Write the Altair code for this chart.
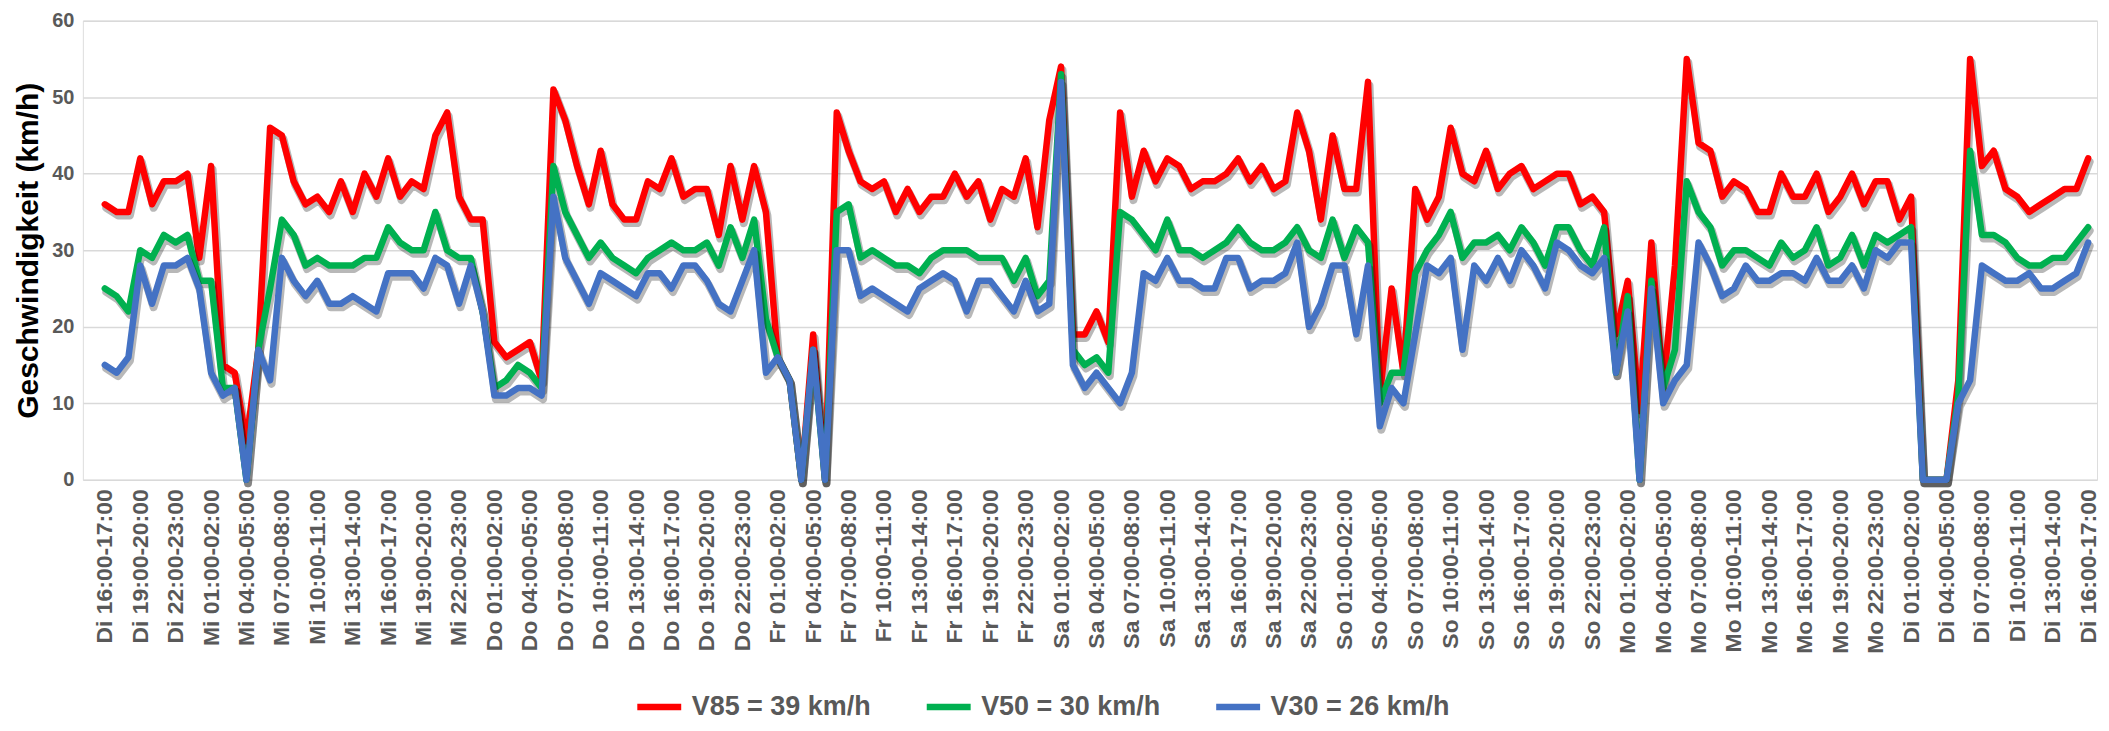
import altair as alt
import pandas as pd

# ---- tick labels (hourly intervals, Tuesday 16:00 to next Tuesday 17:00) ----
days = ["Di", "Mi", "Do", "Fr", "Sa", "So", "Mo", "Di"]
start_hour = 16
labels = []
for i in range(169):
    t = start_hour + i
    d = days[t // 24]
    h = t % 24
    labels.append(f"{d} {h:02d}:00-{(h + 1) % 24:02d}:00")
tick_every = 3

# ---- series values (km/h) ----
v85 = [36, 35, 35, 42, 36, 39, 39, 40, 29, 41,
       15, 14, 5, 17, 46, 45, 39, 36, 37, 35,
       39, 35, 40, 37, 42, 37, 39, 38, 45, 48,
       37, 34, 34, 18, 16, 17, 18, 13, 51, 47,
       41, 36, 43, 36, 34, 34, 39, 38, 42, 37,
       38, 38, 32, 41, 34, 41, 35, 16, 13, 0,
       19, 0, 48, 43, 39, 38, 39, 35, 38, 35,
       37, 37, 40, 37, 39, 34, 38, 37, 42, 33,
       47, 54, 19, 19, 22, 18, 48, 37, 43, 39,
       42, 41, 38, 39, 39, 40, 42, 39, 41, 38,
       39, 48, 43, 34, 45, 38, 38, 52, 11, 25,
       14, 38, 34, 37, 46, 40, 39, 43, 38, 40,
       41, 38, 39, 40, 40, 36, 37, 35, 19, 26,
       9, 31, 12, 28, 55, 44, 43, 37, 39, 38,
       35, 35, 40, 37, 37, 40, 35, 37, 40, 36,
       39, 39, 34, 37, 0, 0, 0, 13, 55, 41,
       43, 38, 37, 35, 36, 37, 38, 38, 42]

v50 = [25, 24, 22, 30, 29, 32, 31, 32, 26, 26,
       12, 12, 0, 17, 25, 34, 32, 28, 29, 28,
       28, 28, 29, 29, 33, 31, 30, 30, 35, 30,
       29, 29, 22, 12, 13, 15, 14, 12, 41, 35,
       32, 29, 31, 29, 28, 27, 29, 30, 31, 30,
       30, 31, 28, 33, 29, 34, 21, 16, 13, 0,
       17, 0, 35, 36, 29, 30, 29, 28, 28, 27,
       29, 30, 30, 30, 29, 29, 29, 26, 29, 24,
       26, 53, 17, 15, 16, 14, 35, 34, 32, 30,
       34, 30, 30, 29, 30, 31, 33, 31, 30, 30,
       31, 33, 30, 29, 34, 29, 33, 31, 10, 14,
       14, 27, 30, 32, 35, 29, 31, 31, 32, 30,
       33, 31, 28, 33, 33, 30, 28, 33, 14, 24,
       0, 26, 12, 17, 39, 35, 33, 28, 30, 30,
       29, 28, 31, 29, 30, 33, 28, 29, 32, 28,
       32, 31, 32, 33, 0, 0, 0, 11, 43, 32,
       32, 31, 29, 28, 28, 29, 29, 31, 33]

v30 = [15, 14, 16, 28, 23, 28, 28, 29, 25, 14,
       11, 12, 0, 17, 13, 29, 26, 24, 26, 23,
       23, 24, 23, 22, 27, 27, 27, 25, 29, 28,
       23, 28, 22, 11, 11, 12, 12, 11, 37, 29,
       26, 23, 27, 26, 25, 24, 27, 27, 25, 28,
       28, 26, 23, 22, 26, 30, 14, 16, 13, 0,
       17, 0, 30, 30, 24, 25, 24, 23, 22, 25,
       26, 27, 26, 22, 26, 26, 24, 22, 26, 22,
       23, 52, 15, 12, 14, 12, 10, 14, 27, 26,
       29, 26, 26, 25, 25, 29, 29, 25, 26, 26,
       27, 31, 20, 23, 28, 28, 19, 28, 7, 12,
       10, 19, 28, 27, 29, 17, 28, 26, 29, 26,
       30, 28, 25, 31, 30, 28, 27, 29, 14, 22,
       0, 25, 10, 13, 15, 31, 28, 24, 25, 28,
       26, 26, 27, 27, 26, 29, 26, 26, 28, 25,
       30, 29, 31, 31, 0, 0, 0, 10, 13, 28,
       27, 26, 26, 27, 25, 25, 26, 27, 31]

series_names = ["V85 = 39 km/h", "V50 = 30 km/h", "V30 = 26 km/h"]
series_colors = ["#FF0000", "#00B050", "#4472C4"]
series_values = [v85, v50, v30]

rows = []
for name, vals in zip(series_names, series_values):
    for i, v in enumerate(vals):
        rows.append({"idx": i, "label": labels[i], "series": name, "value": v})
df = pd.DataFrame(rows)

label_array = "[" + ",".join("'" + l + "'" for l in labels) + "]"
label_expr = label_array + "[datum.value]"

FONT = "Liberation Sans"
GRAY = "#595959"

x_enc = alt.X(
    "idx:Q",
    scale=alt.Scale(domain=[-1.86, 168.75], nice=False, zero=False),
    axis=alt.Axis(
        values=list(range(0, len(labels), tick_every)),
        labelExpr=label_expr,
        labelAngle=-90,
        labelFontSize=23,
        labelFontWeight="bold",
        labelColor=GRAY,
        labelFont=FONT,
        labelPadding=9,
        labelOverlap=False,
        labelBound=False,
        labelFlush=False,
        ticks=False,
        domain=False,
        grid=False,
        title=None,
    ),
)
y_enc = alt.Y(
    "value:Q",
    scale=alt.Scale(domain=[0, 60], nice=False),
    axis=alt.Axis(
        values=[0, 10, 20, 30, 40, 50, 60],
        labelFontSize=20,
        labelFontWeight="bold",
        labelColor=GRAY,
        labelFont=FONT,
        labelPadding=9,
        ticks=False,
        domain=False,
        grid=True,
        gridColor="#D9D9D9",
        gridWidth=1.5,
        title="Geschwindigkeit (km/h)",
        titleFontSize=30,
        titleFontWeight="bold",
        titleColor="#000000",
        titleFont=FONT,
        titlePadding=8,
    ),
)

color_scale = alt.Scale(domain=series_names, range=series_colors)

layers = []
for name in series_names:
    sub = alt.Chart(df).transform_filter(alt.datum.series == name)
    shadow = sub.mark_line(
        strokeWidth=8, color="#000000", opacity=0.28,
        xOffset=1.5, yOffset=3.5, strokeJoin="round", strokeCap="round",
    ).encode(x=x_enc, y=y_enc, detail="series:N")
    line = sub.mark_line(strokeWidth=6.5, strokeJoin="round", strokeCap="round").encode(
        x=x_enc,
        y=y_enc,
        color=alt.Color(
            "series:N",
            scale=color_scale,
            legend=alt.Legend(
                title=None,
                orient="none",
                direction="horizontal",
                legendX=552,
                legendY=662,
                symbolType="stroke",
                symbolSize=1936,
                symbolStrokeWidth=6.5,
                labelFontSize=27,
                labelFontWeight="bold",
                labelColor=GRAY,
                labelFont=FONT,
                labelLimit=400,
                columnPadding=42,
                symbolOffset=0,
                labelOffset=7,
            ),
        ),
    )
    layers.append(shadow)
    layers.append(line)

chart = alt.layer(*layers).properties(
    width=2018,
    height=460,
    autosize=alt.AutoSizeParams(type="none"),
    padding={"left": 75, "top": 12, "right": 4, "bottom": 243},
).configure_view(stroke=None).configure(font=FONT)

chart.save("out.html", embed_options={"renderer": "svg", "actions": False})
